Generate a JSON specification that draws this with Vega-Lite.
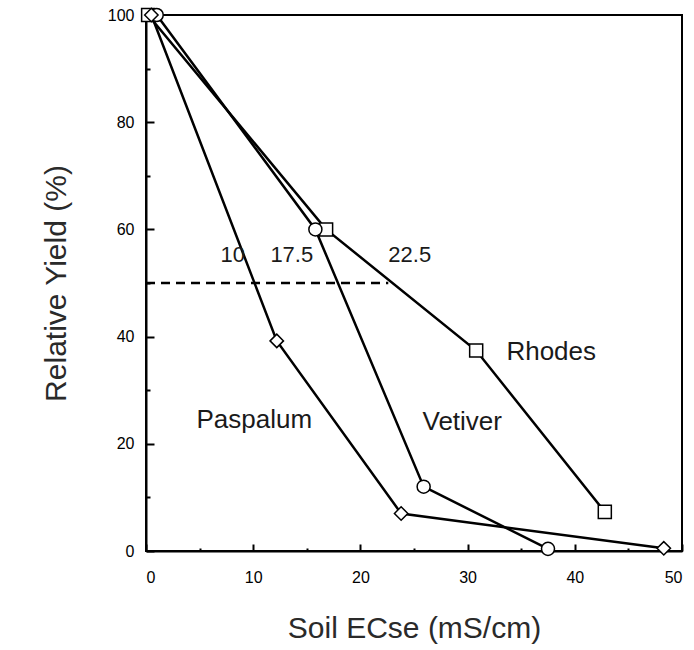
{
  "$schema": "https://vega.github.io/schema/vega-lite/v6.json",
  "width": 536,
  "height": 536,
  "autosize": {"type": "none"},
  "padding": {"left": 146, "top": 15, "right": 12, "bottom": 99},
  "background": "white",
  "config": {
    "view": {"stroke": "black", "strokeWidth": 2},
    "axis": {
      "labelFont": "Liberation Sans",
      "titleFont": "Liberation Sans",
      "labelColor": "black",
      "titleColor": "#2a2a2a",
      "domainColor": "black",
      "tickColor": "black",
      "grid": false,
      "domainWidth": 2,
      "tickWidth": 2,
      "labelFontSize": 16,
      "titleFontSize": 30,
      "titleFontWeight": "normal"
    }
  },
  "datasets": {
    "curves": [
      {"species": "Rhodes", "ec": 0.2, "yield": 100},
      {"species": "Rhodes", "ec": 16.8, "yield": 60},
      {"species": "Rhodes", "ec": 30.8, "yield": 37.4},
      {"species": "Rhodes", "ec": 42.8, "yield": 7.3},
      {"species": "Vetiver", "ec": 1.0, "yield": 100},
      {"species": "Vetiver", "ec": 15.8, "yield": 60},
      {"species": "Vetiver", "ec": 25.9, "yield": 12},
      {"species": "Vetiver", "ec": 37.5, "yield": 0.4},
      {"species": "Paspalum", "ec": 0.5, "yield": 100},
      {"species": "Paspalum", "ec": 12.2, "yield": 39.2},
      {"species": "Paspalum", "ec": 23.8, "yield": 7.0},
      {"species": "Paspalum", "ec": 48.3, "yield": 0.5}
    ],
    "threshold": [
      {"ec": 0, "yield": 50},
      {"ec": 22.6, "yield": 50}
    ],
    "numbers": [
      {"text": "10", "ec": 8.1, "yield": 55.2},
      {"text": "17.5", "ec": 13.6, "yield": 55.2},
      {"text": "22.5", "ec": 24.6, "yield": 55.2}
    ],
    "names": [
      {"text": "Rhodes", "ec": 37.8, "yield": 37.1},
      {"text": "Vetiver", "ec": 29.5, "yield": 24},
      {"text": "Paspalum", "ec": 10.1, "yield": 24.4}
    ]
  },
  "layer": [
    {
      "layer": [
        {
          "data": {"name": "curves"},
          "mark": {"type": "line", "color": "black", "strokeWidth": 2.5},
          "encoding": {
            "x": {
              "field": "ec", "type": "quantitative",
              "scale": {"domain": [0, 50], "nice": false},
              "axis": {"values": [0, 10, 20, 30, 40, 50], "tickSize": -7, "labelPadding": 25, "title": "Soil ECse (mS/cm)", "titlePadding": 28}
            },
            "y": {
              "field": "yield", "type": "quantitative",
              "scale": {"domain": [0, 100], "nice": false},
              "axis": {"values": [0, 20, 40, 60, 80, 100], "tickSize": -8, "labelPadding": 20, "title": "Relative Yield (%)", "titlePadding": 36}
            },
            "detail": {"field": "species"},
            "order": {"field": "ec"}
          }
        },
        {
          "data": {"name": "threshold"},
          "mark": {"type": "line", "color": "black", "strokeWidth": 2.5, "strokeDash": [9, 6]},
          "encoding": {
            "x": {"field": "ec", "type": "quantitative"},
            "y": {"field": "yield", "type": "quantitative"}
          }
        },
        {
          "data": {"name": "curves"},
          "mark": {"type": "point", "filled": true, "fill": "white", "stroke": "black", "strokeWidth": 1.5, "opacity": 1},
          "encoding": {
            "x": {"field": "ec", "type": "quantitative"},
            "y": {"field": "yield", "type": "quantitative"},
            "shape": {
              "field": "species", "type": "nominal",
              "scale": {"domain": ["Rhodes", "Vetiver", "Paspalum"], "range": ["square", "circle", "diamond"]},
              "legend": null
            },
            "size": {
              "field": "species", "type": "nominal",
              "scale": {"type": "ordinal", "domain": ["Rhodes", "Vetiver", "Paspalum"], "range": [170, 170, 180]},
              "legend": null
            }
          }
        },
        {
          "data": {"name": "numbers"},
          "mark": {"type": "text", "font": "Liberation Sans", "fontSize": 22, "color": "#1a1a1a", "align": "center", "baseline": "middle"},
          "encoding": {
            "x": {"field": "ec", "type": "quantitative"},
            "y": {"field": "yield", "type": "quantitative"},
            "text": {"field": "text"}
          }
        },
        {
          "data": {"name": "names"},
          "mark": {"type": "text", "font": "Liberation Sans", "fontSize": 26, "color": "#1a1a1a", "align": "center", "baseline": "middle"},
          "encoding": {
            "x": {"field": "ec", "type": "quantitative"},
            "y": {"field": "yield", "type": "quantitative"},
            "text": {"field": "text"}
          }
        }
      ]
    },
    {
      "data": {"name": "threshold"},
      "mark": {"type": "point", "opacity": 0},
      "encoding": {
        "x": {
          "field": "ec", "type": "quantitative",
          "axis": {"orient": "bottom", "values": [5, 15, 25, 35, 45], "tickSize": -3, "labels": false, "domain": false, "title": null}
        },
        "y": {
          "field": "yield", "type": "quantitative",
          "axis": {"orient": "left", "values": [10, 30, 50, 70, 90], "tickSize": -4, "labels": false, "domain": false, "title": null}
        }
      }
    }
  ],
  "resolve": {"axis": {"x": "independent", "y": "independent"}}
}
